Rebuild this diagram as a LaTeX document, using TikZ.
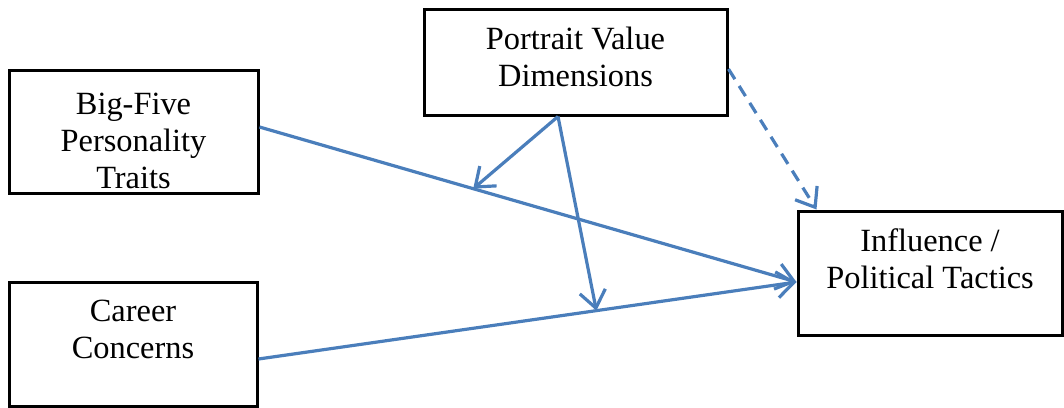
\documentclass[tikz,border=0pt]{standalone}
\usepackage{fontspec}
\setmainfont{Liberation Serif}
\usetikzlibrary{positioning,calc,arrows.meta}
\definecolor{linkblue}{HTML}{4A7EBB}
\tikzset{
  factor/.style={draw=black, line width=1.5pt, fill=white, inner sep=0pt},
  factortext/.style={align=center, inner sep=0pt, font=\fontsize{16.2}{18.5}\selectfont},
  link/.style={draw=linkblue, line width=1.6pt, -{Straight Barb[length=8.5pt,width=13pt]}},
}
\begin{document}
\begin{tikzpicture}[x=0.5pt, y=-0.5pt]
    \useasboundingbox (0,0) rectangle (1064,407);
    % Four boxes
    \node[factor, minimum width=124.5pt, minimum height=61.5pt] (bigfive) at (133.5,131.5) {};
    \node[factor, minimum width=151.5pt, minimum height=53pt] (portrait) at (575.5,62) {};
    \node[factor, minimum width=124pt, minimum height=62pt] (career) at (133,344) {};
    \node[factor, minimum width=132pt, minimum height=62pt] (influence) at (930,273) {};
    % Box texts
    \node[factortext, below=12pt of bigfive.north] (bigfivetext) {Big-Five\\Personality\\Traits};
    \node[factortext, below=9.5pt of portrait.north] (portraittext) {Portrait Value\\Dimensions};
    \node[factortext, below=9.5pt of career.north] (careertext) {Career\\Concerns};
    \node[factortext, below=9.5pt of influence.north] (influencetext) {Influence /\\Political Tactics};
    % End points of the links
    \coordinate (bfout) at ([yshift=2.25pt]bigfive.east);
    \coordinate (ccout) at ([yshift=-7.5pt]career.east);
    \coordinate (tacin) at ([yshift=-4.5pt]influence.west);
    \coordinate (pvout) at ([xshift=-8.75pt]portrait.south);
    \coordinate (pvdash) at ([yshift=-3.5pt]portrait.east);
    \coordinate (tacdash) at ([xshift=10pt]influence.north west);
    % Main effects
    \draw[link] (bfout) -- (tacin);
    \draw[link] (ccout) -- (tacin);
    % Moderation
    \coordinate (modA) at ($(bfout)!0.398!(tacin)$);
    \coordinate (modB) at ($(ccout)!0.628!(tacin)$);
    \draw[link] (pvout) -- (modA);
    \draw[link] (pvout) -- (modB);
    % Direct effect of values
    \draw[link, dash pattern=on 6pt off 4pt] (pvdash) -- (tacdash);
\end{tikzpicture}
\end{document}
